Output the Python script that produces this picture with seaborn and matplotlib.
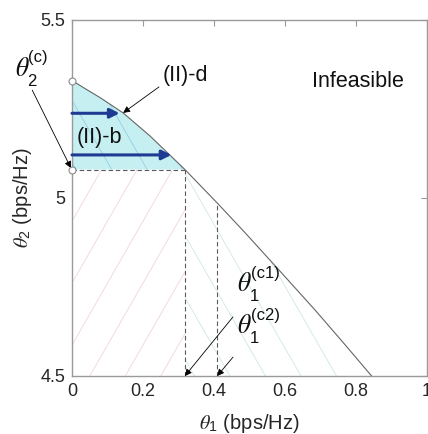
import numpy as np
import matplotlib
matplotlib.use("Agg")
import matplotlib.pyplot as plt
from matplotlib.patches import Polygon
import seaborn as sns

# Rate-region boundary (theta1, theta2) in bps/Hz
theta1_bd = [0.0, 0.039, 0.079, 0.144, 0.220, 0.318, 0.409, 0.487, 0.580, 0.685, 0.769, 0.844]
theta2_bd = [5.33, 5.306, 5.282, 5.239, 5.174, 5.08, 4.986, 4.903, 4.801, 4.685, 4.588, 4.5]

# Corner values
theta2_max = 5.33
theta2_c = 5.08
theta1_c1 = 0.318
theta1_c2 = 0.409
theta2_c2_top = 4.986

# Horizontal arrows inside region (II)-b: (start theta1, end theta1, theta2)
arrow_start = [0.0, 0.0]
arrow_end = [0.134, 0.280]
arrow_level = [5.238, 5.121]

x_ticks = [0, 0.2, 0.4, 0.6, 0.8, 1]
x_ticklabels = ["0", "0.2", "0.4", "0.6", "0.8", "1"]
y_ticks = [4.5, 5, 5.5]
y_ticklabels = ["4.5", "5", "5.5"]

sns.set_theme(style="white")
plt.rcParams["font.family"] = ["Liberation Sans", "DejaVu Sans"]
plt.rcParams["mathtext.fontset"] = "custom"
plt.rcParams["mathtext.rm"] = "Liberation Sans"
plt.rcParams["mathtext.it"] = "STIXGeneral:italic"
plt.rcParams["mathtext.bf"] = "Liberation Sans:bold"

fig = plt.figure(figsize=(4.28, 4.34), dpi=100)
ax = fig.add_axes([72 / 428, 58 / 434, 355 / 428, 356 / 434])
ax.set_xlim(0, 1)
ax.set_ylim(4.5, 5.5)

# Regions
bd = np.column_stack([theta1_bd, theta2_bd])
i_c = theta1_bd.index(theta1_c1)
cyan_poly = np.vstack([bd[: i_c + 1], [[0.0, theta2_c]]])
green_poly = np.vstack([bd[i_c:], [[theta1_c1, 4.5]]])
pink_poly = np.array([[0, 4.5], [theta1_c1, 4.5], [theta1_c1, theta2_c], [0, theta2_c]])

cyan_patch = Polygon(cyan_poly, closed=True, facecolor="#c6eff1", edgecolor="none", zorder=1)
ax.add_patch(cyan_patch)
green_patch = Polygon(green_poly, closed=True, facecolor="none", edgecolor="none")
pink_patch = Polygon(pink_poly, closed=True, facecolor="none", edgecolor="none")
ax.add_patch(green_patch)
ax.add_patch(pink_patch)


def hatch(patch, slope, offset, color):
    ys = np.array([4.0, 6.0])
    for k in range(-20, 21):
        x0 = offset + 0.1 * k
        xs = x0 + (ys - 4.5) / slope
        ln, = ax.plot(xs, ys, color=color, lw=0.6, zorder=1.5)
        ln.set_clip_path(patch)


hatch(pink_patch, 1.74, 0.05, "#f3d3da")
hatch(green_patch, -1.74, 0.045, "#cfe9dc")
hatch(cyan_patch, -1.74, 0.045, "#94cde6")

# Boundary
sns.lineplot(x=theta1_bd, y=theta2_bd, sort=False, color="#666666", lw=0.8, ax=ax, zorder=3)

# Dashed guide lines
dash = dict(color="#5a5a5a", lw=0.8, dashes=(4, 2.5), zorder=2.5)
ax.plot([0, theta1_c1], [theta2_c, theta2_c], **dash)
ax.plot([theta1_c1, theta1_c1], [4.5, theta2_c], **dash)
ax.plot([theta1_c2, theta1_c2], [4.5, theta2_c2_top], **dash)

# Endpoint markers
ax.plot([0, 0], [theta2_max, theta2_c], ls="none", marker="o", ms=5,
        mfc="white", mec="#8a8a8a", mew=0.8, zorder=5, clip_on=False)

# Blue arrows
for xs, xe, yv in zip(arrow_start, arrow_end, arrow_level):
    ax.annotate("", xy=(xe, yv), xytext=(xs, yv),
                arrowprops=dict(arrowstyle="-|>", lw=2.2, color="#1f3a93",
                                mutation_scale=14, shrinkA=0, shrinkB=0),
                zorder=4)

blk = dict(arrowstyle="-|>", lw=0.6, color="black", mutation_scale=10,
           shrinkA=0, shrinkB=0)

fs = 15.5
tc = "#111111"
ax.text(0.32, 5.344, "(II)-d", fontsize=fs, ha="center", va="center", color=tc)
ax.annotate("", xy=(0.144, 5.239), xytext=(0.245, 5.312), arrowprops=blk)
ax.text(0.0775, 5.17, "(II)-b", fontsize=fs, ha="center", va="center", color=tc)
ax.text(0.806, 5.326, "Infeasible", fontsize=fs, ha="center", va="center", color=tc)


def theta_label(x, y, sub, sup, sup_dy=9.0, sub_dy=-7.0):
    """Theta with stacked subscript and superscript; (x, y) is the theta baseline-left."""
    ax.text(x, y, r"$\theta$", fontsize=18.5, ha="left", va="baseline", color=tc,
            clip_on=False)
    ax.annotate(sup, xy=(x, y), xytext=(9.6, sup_dy), textcoords="offset points",
                fontsize=12, ha="left", va="baseline", color=tc, annotation_clip=False)
    ax.annotate(sub, xy=(x, y), xytext=(9.0, sub_dy), textcoords="offset points",
                fontsize=12, ha="left", va="baseline", color=tc, annotation_clip=False)


theta_label(-0.161, 5.343, "2", "(c)", sup_dy=10.0, sub_dy=-7.2)
ax.annotate("", xy=(-0.003, 5.084), xytext=(-0.112, 5.303), arrowprops=blk,
            annotation_clip=False)

theta_label(0.466, 4.739, "1", "(c1)")
ax.annotate("", xy=(theta1_c1, 4.5), xytext=(0.4535, 4.666), arrowprops=blk)
theta_label(0.466, 4.621, "1", "(c2)")
ax.annotate("", xy=(theta1_c2, 4.5), xytext=(0.4535, 4.553), arrowprops=blk)

# Axes styling
ax.set_xticks(x_ticks)
ax.set_xticklabels(x_ticklabels)
ax.set_yticks(y_ticks)
ax.set_yticklabels(y_ticklabels)
ax.tick_params(direction="in", length=4, width=0.8, color="#9a9a9a",
               labelsize=13, labelcolor="#262626", top=True, right=True, pad=5)
for sp in ax.spines.values():
    sp.set_visible(True)
    sp.set_color("#9a9a9a")
    sp.set_linewidth(1.0)
ax.grid(False)

ax.set_xlabel(r"$\theta_1$ (bps/Hz)", fontsize=14.5, color="#262626")
ax.set_ylabel(r"$\theta_2$ (bps/Hz)", fontsize=14.5, color="#262626")
ax.xaxis.set_label_coords(0.5, -0.1)
ax.yaxis.set_label_coords(-0.108, 0.5)

fig.savefig("out.png", dpi=100)
